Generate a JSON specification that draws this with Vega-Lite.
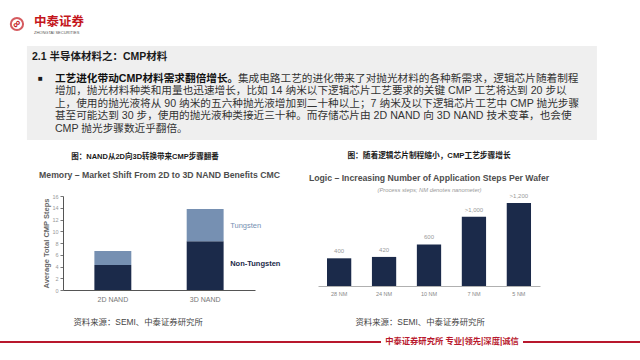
{
  "$schema": "https://vega.github.io/schema/vega-lite/v6.json",
  "background": "white",
  "padding": {"left": 0, "right": 0, "top": 13, "bottom": 0},
  "center": true,
  "spacing": 11,
  "config": {
    "view": {"stroke": null},
    "font": "Liberation Sans, Noto Sans CJK SC",
    "axis": {"grid": false}
  },
  "vconcat": [
    {
      "width": 570,
      "height": 94,
      "view": {"fill": "#efefef", "stroke": null},
      "layer": [
        {
          "data": {"values": [{"logo": "中泰证券"}]},
          "mark": {"type": "point", "shape": "circle", "filled": false, "x": -10, "y": -22, "size": 150, "strokeWidth": 2, "color": "#c4161c"},
          "encoding": {}
        },
        {
          "data": {"values": [{"logo": "∞"}]},
          "mark": {"type": "text", "x": -10, "y": -22, "align": "center", "baseline": "middle", "angle": 315, "fontSize": 11, "fontWeight": "bold", "color": "#c4161c"},
          "encoding": {"text": {"field": "logo"}}
        },
        {
          "data": {"values": [{"logo": "中泰证券"}]},
          "mark": {"type": "text", "x": 7, "y": -24.5, "align": "left", "baseline": "middle", "font": "Noto Sans CJK SC", "fontSize": 12.5, "fontWeight": "bold", "color": "#c4161c"},
          "encoding": {"text": {"field": "logo"}}
        },
        {
          "data": {"values": [{"logo": "ZHONGTAI SECURITIES"}]},
          "mark": {"type": "text", "x": 7, "y": -13, "align": "left", "baseline": "middle", "fontSize": 4, "color": "#555555"},
          "encoding": {"text": {"field": "logo"}}
        },
        {
          "data": {"values": [{"logo": "balance"}]},
          "mark": {"type": "point", "shape": "circle", "filled": false, "x": 580, "y": -22, "size": 150, "strokeWidth": 2, "opacity": 0},
          "encoding": {}
        },
        {
          "data": {"values": [{"text": "2.1 半导体材料之：CMP材料"}]},
          "mark": {"type": "text", "x": 5, "y": 11, "align": "left", "baseline": "middle", "fontSize": 10.5, "fontWeight": "bold", "color": "#1a1a1a"},
          "encoding": {"text": {"field": "text"}}
        },
        {
          "data": {"values": [{"text": "■"}]},
          "mark": {"type": "text", "x": 13.5, "y": 33, "align": "center", "baseline": "middle", "fontSize": 8, "color": "#1a1a1a"},
          "encoding": {"text": {"field": "text"}}
        },
        {
          "data": {"values": [{"text": "工艺进化带动CMP材料需求翻倍增长。"}]},
          "mark": {"type": "text", "x": 28, "y": 33, "align": "left", "baseline": "middle", "fontSize": 10.65, "fontWeight": "bold", "color": "#111111"},
          "encoding": {"text": {"field": "text"}}
        },
        {
          "data": {"values": [{"text": "集成电路工艺的进化带来了对抛光材料的各种新需求，逻辑芯片随着制程"}]},
          "mark": {"type": "text", "x": 211, "y": 33, "align": "left", "baseline": "middle", "fontSize": 10.65, "color": "#333333"},
          "encoding": {"text": {"field": "text"}}
        },
        {
          "data": {"values": [{"text": "增加，抛光材料种类和用量也迅速增长，比如 14 纳米以下逻辑芯片工艺要求的关键 CMP 工艺将达到 20 步以\n上，使用的抛光液将从 90 纳米的五六种抛光液增加到二十种以上；7 纳米及以下逻辑芯片工艺中 CMP 抛光步骤\n甚至可能达到 30 步，使用的抛光液种类接近三十种。而存储芯片由 2D NAND 向 3D NAND 技术变革，也会使\nCMP 抛光步骤数近乎翻倍。"}]},
          "mark": {"type": "text", "x": 28, "y": 40, "align": "left", "baseline": "top", "lineBreak": "\n", "lineHeight": 12.5, "fontSize": 10.65, "color": "#333333"},
          "encoding": {"text": {"field": "text"}}
        }
      ]
    },
    {
      "bounds": "flush",
      "spacing": 20,
      "hconcat": [
        {
          "width": 43,
          "height": 1,
          "data": {"values": [{}]},
          "mark": {"type": "point", "opacity": 0}
        },
        {
          "width": 192,
          "height": 94,
          "title": {
            "text": "图：NAND从2D向3D转换带来CMP步骤翻番",
            "anchor": "middle",
            "dx": -14,
            "offset": 9.5,
            "fontSize": 7.5,
            "fontWeight": "bold",
            "color": "#1a1a1a"
          },
          "data": {
            "values": [
              {"nand": "2D NAND", "type": "Non-Tungsten", "steps": 4.25},
              {"nand": "2D NAND", "type": "Tungsten", "steps": 2.4},
              {"nand": "3D NAND", "type": "Non-Tungsten", "steps": 8.3},
              {"nand": "3D NAND", "type": "Tungsten", "steps": 5.5}
            ]
          },
          "layer": [
            {
              "mark": {"type": "bar"},
              "encoding": {
                "x": {
                  "field": "nand", "type": "nominal", "sort": null,
                  "scale": {"paddingInner": 0.6, "paddingOuter": 0.34},
                  "axis": {
                    "title": "资料来源：SEMI、中泰证券研究所",
                    "titleX": 10, "titleY": 31, "titleAlign": "left", "titleBaseline": "middle",
                    "titleFontSize": 8.4, "titleFontWeight": "normal", "titleColor": "#444444",
                    "labelFontSize": 7, "labelColor": "#777777", "labelPadding": 5, "labelAngle": 0,
                    "ticks": false, "domainColor": "#555555"
                  }
                },
                "y": {
                  "field": "steps", "type": "quantitative",
                  "scale": {"domain": [0, 16], "nice": false},
                  "axis": {
                    "title": "Average Total CMP Steps",
                    "values": [0, 2, 4, 6, 8, 10, 12, 14, 16],
                    "labelFontSize": 5.5, "labelColor": "#999999", "labelPadding": 2,
                    "tickSize": 3, "tickColor": "#777777", "domainColor": "#555555",
                    "titleFontSize": 7.5, "titleColor": "#666666", "titleFontWeight": "bold", "titlePadding": 1
                  }
                },
                "color": {
                  "field": "type", "type": "nominal",
                  "scale": {"domain": ["Non-Tungsten", "Tungsten"], "range": ["#1b2a4a", "#7690b2"]},
                  "legend": null
                },
                "order": {"field": "type", "type": "nominal", "sort": "ascending"}
              }
            },
            {
              "transform": [
                {"filter": "datum.nand === '3D NAND'"},
                {"stack": "steps", "groupby": ["nand"], "sort": [{"field": "type", "order": "ascending"}], "as": ["lo", "hi"]},
                {"filter": "datum.type === 'Tungsten'"}
              ],
              "mark": {"type": "text", "align": "left", "baseline": "middle", "dx": 25, "dy": 17, "fontSize": 7.5},
              "encoding": {
                "x": {
                  "field": "nand", "type": "nominal", "sort": null,
                  "axis": {
                    "orient": "top", "title": "Memory – Market Shift From 2D to 3D NAND Benefits CMC",
                    "titleY": -22, "titleBaseline": "middle", "titleFontSize": 8.7, "titleFontWeight": "bold",
                    "titleColor": "#4d4d4d", "labels": false, "ticks": false, "domain": false
                  }
                },
                "y": {"field": "hi", "type": "quantitative", "scale": {"domain": [0, 16], "nice": false}, "axis": null},
                "text": {"field": "type"},
                "color": {"field": "type", "type": "nominal", "legend": null}
              }
            },
            {
              "transform": [
                {"filter": "datum.nand === '3D NAND'"},
                {"stack": "steps", "groupby": ["nand"], "sort": [{"field": "type", "order": "ascending"}], "as": ["lo", "hi"]},
                {"filter": "datum.type === 'Non-Tungsten'"}
              ],
              "mark": {"type": "text", "align": "left", "baseline": "middle", "dx": 25, "dy": 23, "fontSize": 7.5, "fontWeight": "bold"},
              "encoding": {
                "x": {"field": "nand", "type": "nominal", "sort": null, "axis": null},
                "y": {"field": "hi", "type": "quantitative", "scale": {"domain": [0, 16], "nice": false}, "axis": null},
                "text": {"field": "type"},
                "color": {"field": "type", "type": "nominal", "legend": null}
              }
            }
          ],
          "resolve": {"axis": {"x": "independent", "y": "independent"}}
        },
        {
          "width": 23,
          "height": 1,
          "data": {"values": [{}]},
          "mark": {"type": "point", "opacity": 0}
        },
        {
          "width": 222,
          "height": 90,
          "title": {
            "text": "图：随着逻辑芯片制程缩小，CMP工艺步骤增长",
            "subtitle": "Logic – Increasing Number of Application Steps Per Wafer",
            "anchor": "middle",
            "offset": 3,
            "fontSize": 7.7,
            "fontWeight": "bold",
            "color": "#1a1a1a",
            "subtitleFont": "Liberation Sans",
            "subtitleFontSize": 8.7,
            "subtitleFontWeight": "bold",
            "subtitleColor": "#4d4d4d",
            "subtitlePadding": 14.8
          },
          "data": {
            "values": [
              {"node": "28 NM", "steps": 400, "label": "400"},
              {"node": "24 NM", "steps": 420, "label": "420"},
              {"node": "10 NM", "steps": 600, "label": "600"},
              {"node": "7 NM", "steps": 1000, "label": ">1,000"},
              {"node": "5 NM", "steps": 1200, "label": ">1,200"}
            ]
          },
          "layer": [
            {
              "mark": {"type": "bar", "color": "#1b2a4a"},
              "encoding": {
                "x": {
                  "field": "node", "type": "nominal", "sort": null,
                  "scale": {"paddingInner": 0.46, "paddingOuter": 0.2},
                  "axis": {
                    "title": "资料来源：SEMI、中泰证券研究所",
                    "titleX": 37, "titleY": 35, "titleAlign": "left", "titleBaseline": "middle",
                    "titleFontSize": 8.4, "titleFontWeight": "normal", "titleColor": "#444444",
                    "labelFontSize": 5.5, "labelColor": "#888888", "labelPadding": 5, "labelAngle": 0,
                    "ticks": false, "domainColor": "#b0b0b0"
                  }
                },
                "y": {"field": "steps", "type": "quantitative", "scale": {"domain": [0, 1300], "nice": false}, "axis": null}
              }
            },
            {
              "mark": {"type": "text", "baseline": "bottom", "dy": -4, "fontSize": 6, "color": "#9a9a9a"},
              "encoding": {
                "x": {
                  "field": "node", "type": "nominal", "sort": null,
                  "axis": {
                    "orient": "top", "title": "(Process steps; NM denotes nanometer)",
                    "titleY": -7, "titleBaseline": "middle", "titleFontSize": 5.8, "titleFontStyle": "italic",
                    "titleFontWeight": "normal", "titleColor": "#9a9a9a", "labels": false, "ticks": false, "domain": false
                  }
                },
                "y": {"field": "steps", "type": "quantitative", "scale": {"domain": [0, 1300], "nice": false}, "axis": null},
                "text": {"field": "label"}
              }
            }
          ],
          "resolve": {"axis": {"x": "independent"}}
        },
        {
          "width": 80,
          "height": 1,
          "data": {"values": [{}]},
          "mark": {"type": "point", "opacity": 0}
        }
      ]
    },
    {
      "bounds": "flush",
      "spacing": 0,
      "hconcat": [
        {
          "width": 381,
          "height": 2,
          "view": {"fill": "#b8182d", "stroke": null},
          "data": {"values": [{}]},
          "mark": {"type": "point", "opacity": 0}
        },
        {
          "width": 142,
          "height": 2,
          "data": {"values": [{"footer": "中泰证券研究所 专业|领先|深度|诚信"}]},
          "mark": {"type": "text", "baseline": "middle", "fontSize": 8.3, "fontWeight": "bold", "color": "#b8182d"},
          "encoding": {"text": {"field": "footer"}}
        },
        {
          "width": 117,
          "height": 2,
          "view": {"fill": "#b8182d", "stroke": null},
          "data": {"values": [{}]},
          "mark": {"type": "point", "opacity": 0}
        }
      ]
    }
  ]
}
